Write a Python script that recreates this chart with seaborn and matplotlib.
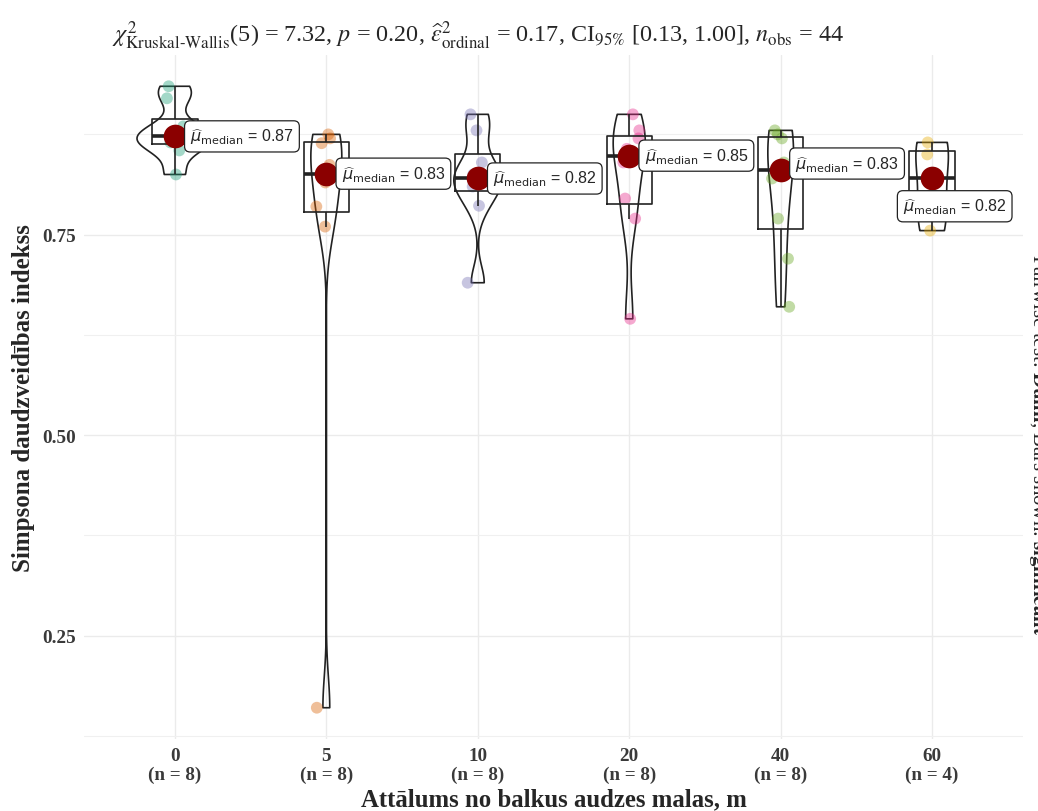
import numpy as np
import pandas as pd
import matplotlib
matplotlib.use("Agg")
from matplotlib import pyplot as plt
from matplotlib.ticker import MultipleLocator, FormatStrFormatter
import seaborn as sns

# attalums no malas (m) un Simpsona indekss katra grupa
distances = ["0", "5", "10", "20", "40", "60"]
simpson_0 = [0.825, 0.855, 0.865, 0.87, 0.875, 0.885, 0.92, 0.935]
simpson_5 = [0.16, 0.76, 0.785, 0.815, 0.837, 0.864, 0.87, 0.875]
simpson_10 = [0.69, 0.786, 0.81, 0.815, 0.825, 0.84, 0.88, 0.90]
simpson_20 = [0.645, 0.77, 0.795, 0.84, 0.857, 0.87, 0.88, 0.90]
simpson_40 = [0.66, 0.72, 0.77, 0.82, 0.84, 0.87, 0.875, 0.88]
simpson_60 = [0.755, 0.79, 0.85, 0.865]

# label offsets (points) relative to the median dot
label_dx = [11, 11, 11, 11, 10.5, -21]
label_dy = [0, 0, 0, 0, 5, -20]

subtitle = (r"$\chi^2_{\mathrm{Kruskal\text{-}Wallis}}$(5) = 7.32, $\mathit{p}$ = 0.20, "
            r"$\widehat{\epsilon}^2_{\mathrm{ordinal}}$ = 0.17, CI$_{95\%}$ [0.13, 1.00], "
            r"$\mathit{n}_{\mathrm{obs}}$ = 44")
caption = r"Pairwise test: $\mathbf{Dunn}$, Bars shown: $\mathbf{significant}$"

groups = [simpson_0, simpson_5, simpson_10, simpson_20, simpson_40, simpson_60]
df = pd.DataFrame({
    "dist": np.repeat(distances, [len(g) for g in groups]),
    "simpson": np.concatenate(groups),
})


def nrd0(kde):
    # R's bw.nrd0, returned as a factor of the sample sd (what scipy expects)
    v = kde.dataset[0]
    sd = v.std(ddof=1)
    iqr = np.subtract(*np.percentile(v, [75, 25]))
    bw = 0.9 * min(sd, iqr / 1.34) * len(v) ** -0.2
    return bw / sd


sns.set_style("white")
plt.rcParams["font.family"] = ["Liberation Serif", "DejaVu Serif"]
plt.rcParams["mathtext.fontset"] = "stix"

fig = plt.figure(figsize=(10.38, 8.12), dpi=100)
ax = fig.add_axes([84 / 1038, 72 / 812, 939 / 1038, 684 / 812])

pal = sns.color_palette("Dark2", 6)
np.random.seed(3)
sns.stripplot(data=df, x="dist", y="simpson", hue="dist", order=distances,
              palette=pal, alpha=0.4, size=8.5, jitter=0.07, linewidth=0,
              legend=False, ax=ax, zorder=2)

sns.boxplot(data=df, x="dist", y="simpson", order=distances, width=0.3,
            fill=False, color="#222222", linewidth=1.2, showfliers=False,
            showcaps=False, medianprops={"linewidth": 2.6}, ax=ax, zorder=3)

sns.violinplot(data=df, x="dist", y="simpson", order=distances,
               width=0.5, density_norm="area", cut=0, inner=None, gridsize=256,
               fill=False, color="#222222", linewidth=1.2,
               bw_method=nrd0, ax=ax)

sns.pointplot(data=df, x="dist", y="simpson", order=distances,
              estimator=np.median, errorbar=None, linestyle="none",
              color="#8B0000", markersize=15, ax=ax, zorder=5)

for i, g in enumerate(groups):
    med = np.median(g)
    ax.annotate(r"$\widehat{\mu}_{\mathrm{median}}$" + f" = {med:.2f}",
                xy=(i, med), xytext=(label_dx[i], label_dy[i]),
                textcoords="offset points", ha="left", va="center",
                fontsize=11.5, family="Liberation Sans", math_fontfamily="dejavusans",
                bbox=dict(boxstyle="round,pad=0.35", fc="white", ec="#222222", lw=0.9),
                zorder=6)

ax.set_xlim(-0.6, 5.6)
ax.set_ylim(0.121, 0.974)
ax.yaxis.set_major_locator(MultipleLocator(0.25))
ax.yaxis.set_minor_locator(MultipleLocator(0.125))
ax.yaxis.set_major_formatter(FormatStrFormatter("%.2f"))
ax.set_xticks(range(len(distances)))
ax.set_xticklabels([f"{d}\n(n = {len(g)})" for d, g in zip(distances, groups)],
                   linespacing=1.1)

ax.grid(True, which="major", color="#EBEBEB", lw=1.0)
ax.grid(True, which="minor", axis="y", color="#F0F0F0", lw=0.8)
ax.set_axisbelow(True)
for s in ax.spines.values():
    s.set_visible(False)
ax.tick_params(axis="both", which="major", length=3, width=0.9, color="#333333",
               labelsize=13.8, labelcolor="#3a3a3a", pad=3)
ax.tick_params(axis="y", which="minor", length=0)
for lab in ax.get_xticklabels() + ax.get_yticklabels():
    lab.set_fontweight("bold")

ax.set_xlabel("Attālums no balkus audzes malas, m", fontsize=17.8, fontweight="bold",
              labelpad=3)
ax.set_ylabel("Simpsona daudzveidības indekss", fontsize=18, fontweight="bold",
              labelpad=5)

fig.text(112 / 1038, 1 - 36 / 812, subtitle, fontsize=17.4, ha="left", va="center")
fig.text(1027 / 1038, 1 - 445 / 812, caption, fontsize=15, rotation=-90,
         ha="left", va="center")

fig.savefig("out.png", dpi=100)
